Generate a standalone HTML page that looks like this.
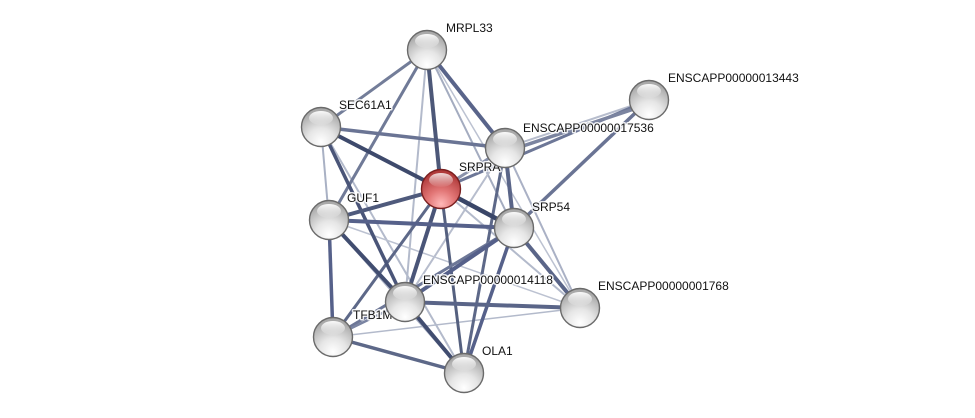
<!DOCTYPE html>
<html>
<head>
<meta charset="utf-8">
<style>
  html,body{margin:0;padding:0;background:#fff;}
  svg{display:block;}
  .lbl{font-family:"Liberation Sans",Arial,sans-serif;font-size:12px;fill:#111;stroke:#fff;stroke-width:3px;stroke-opacity:0.85;paint-order:stroke;stroke-linejoin:round;}
</style>
</head>
<body>
<svg width="975" height="418" viewBox="0 0 975 418" xmlns="http://www.w3.org/2000/svg">
  <defs>
    <radialGradient id="gBase" cx="50%" cy="88%" r="78%">
      <stop offset="0" stop-color="#ffffff"/>
      <stop offset="0.45" stop-color="#e6e6e6"/>
      <stop offset="1" stop-color="#a9a9a9"/>
    </radialGradient>
    <radialGradient id="rBase" cx="50%" cy="88%" r="78%">
      <stop offset="0" stop-color="#ffb8b8"/>
      <stop offset="0.45" stop-color="#e27676"/>
      <stop offset="1" stop-color="#b03a3a"/>
    </radialGradient>
    <linearGradient id="hl" x1="0" y1="0" x2="0" y2="1">
      <stop offset="0" stop-color="#ffffff" stop-opacity="0.95"/>
      <stop offset="1" stop-color="#ffffff" stop-opacity="0.05"/>
    </linearGradient>
  </defs>

  <g stroke-linecap="butt" fill="none">
    <!-- light edges -->
    <line x1="427" y1="50" x2="405" y2="302" stroke="#b3bacb" stroke-width="2"/>
    <line x1="427" y1="50" x2="580" y2="308" stroke="#bcc2d1" stroke-width="1.5"/>
    <line x1="427" y1="50" x2="514" y2="228" stroke="#a4acc0" stroke-width="2"/>
    <line x1="321" y1="127" x2="329" y2="220" stroke="#a9b1c4" stroke-width="2"/>
    <line x1="321" y1="127" x2="464" y2="373" stroke="#b3bacb" stroke-width="2"/>
    <line x1="505" y1="148" x2="580" y2="308" stroke="#aab1c5" stroke-width="2"/>
    <line x1="505" y1="148" x2="405" y2="302" stroke="#b7bdcd" stroke-width="2"/>
    <line x1="441" y1="189" x2="580" y2="308" stroke="#b3bacb" stroke-width="2"/>
    <line x1="329" y1="220" x2="580" y2="308" stroke="#bcc2d1" stroke-width="1.5"/>
    <line x1="329" y1="220" x2="464" y2="373" stroke="#adb4c7" stroke-width="2"/>
    <line x1="333" y1="337" x2="580" y2="308" stroke="#b3bacb" stroke-width="1.5"/>
    <line x1="505" y1="148" x2="649" y2="100" stroke="#b7bdcd" stroke-width="2"/>
    <!-- medium edges -->
    <line x1="427" y1="50" x2="321" y2="127" stroke="#737d99" stroke-width="3"/>
    <line x1="427" y1="50" x2="329" y2="220" stroke="#707a97" stroke-width="3"/>
    <line x1="321" y1="127" x2="505" y2="148" stroke="#6a7494" stroke-width="3.5"/>
    <line x1="505" y1="148" x2="441" y2="189" stroke="#8a92ab" stroke-width="3"/>
    <line x1="505" y1="148" x2="464" y2="373" stroke="#5d6888" stroke-width="3"/>
    <line x1="441" y1="189" x2="333" y2="337" stroke="#5d6888" stroke-width="3"/>
    <line x1="441" y1="189" x2="464" y2="373" stroke="#55607f" stroke-width="3"/>
    <line x1="441" y1="189" x2="649" y2="100" stroke="#6d7797" stroke-width="3"/>
    <line x1="514" y1="228" x2="333" y2="337" stroke="#6d7797" stroke-width="3"/>
    <line x1="514" y1="228" x2="464" y2="373" stroke="#56618a" stroke-width="3.5"/>
    <line x1="514" y1="228" x2="649" y2="100" stroke="#6a7494" stroke-width="3.5"/>
    <line x1="329" y1="220" x2="333" y2="337" stroke="#56618a" stroke-width="3.5"/>
    <line x1="333" y1="337" x2="464" y2="373" stroke="#5d6888" stroke-width="3.5"/>
    <!-- thick edges -->
    <line x1="427" y1="50" x2="441" y2="189" stroke="#4d5878" stroke-width="4"/>
    <line x1="427" y1="50" x2="505" y2="148" stroke="#59648a" stroke-width="4"/>
    <line x1="321" y1="127" x2="441" y2="189" stroke="#3e4a6c" stroke-width="4"/>
    <line x1="321" y1="127" x2="405" y2="302" stroke="#4a5578" stroke-width="3.5"/>
    <line x1="505" y1="148" x2="514" y2="228" stroke="#5a6588" stroke-width="4"/>
    <line x1="505" y1="148" x2="649" y2="100" stroke="#7b84a0" stroke-width="3.5" transform="translate(0,4)"/>
    <line x1="441" y1="189" x2="329" y2="220" stroke="#4f5a7c" stroke-width="4"/>
    <line x1="441" y1="189" x2="514" y2="228" stroke="#3a4668" stroke-width="4.5"/>
    <line x1="441" y1="189" x2="405" y2="302" stroke="#4a5578" stroke-width="4"/>
    <line x1="329" y1="220" x2="514" y2="228" stroke="#56618a" stroke-width="4"/>
    <line x1="329" y1="220" x2="405" y2="302" stroke="#414d70" stroke-width="4"/>
    <line x1="514" y1="228" x2="405" y2="302" stroke="#55608a" stroke-width="4"/>
    <line x1="514" y1="228" x2="580" y2="308" stroke="#5a6588" stroke-width="4"/>
    <line x1="405" y1="302" x2="580" y2="308" stroke="#5a6588" stroke-width="4"/>
    <line x1="405" y1="302" x2="464" y2="373" stroke="#414d70" stroke-width="4"/>
    <line x1="405" y1="302" x2="333" y2="337" stroke="#7a84a2" stroke-width="2.5"/>
  </g>

  <!-- labels -->
  <g class="lbl">
    <text x="446" y="32">MRPL33</text>
    <text x="339" y="109">SEC61A1</text>
    <text x="459" y="171">SRPRA</text>
    <text x="523" y="132">ENSCAPP00000017536</text>
    <text x="668" y="82">ENSCAPP00000013443</text>
    <text x="347" y="202">GUF1</text>
    <text x="532" y="211">SRP54</text>
    <text x="423" y="284">ENSCAPP00000014118</text>
    <text x="353" y="319">TFB1M</text>
    <text x="598" y="290">ENSCAPP00000001768</text>
    <text x="482" y="355">OLA1</text>
  </g>

  <!-- nodes -->
  <g>
    <g transform="translate(427,50)"><circle r="19.5" fill="url(#gBase)" stroke="#6a6a6a" stroke-width="1.4"/><ellipse cx="0" cy="-9" rx="12" ry="7" fill="url(#hl)"/></g>
    <g transform="translate(321,127)"><circle r="19.5" fill="url(#gBase)" stroke="#6a6a6a" stroke-width="1.4"/><ellipse cx="0" cy="-9" rx="12" ry="7" fill="url(#hl)"/></g>
    <g transform="translate(505,148)"><circle r="19.5" fill="url(#gBase)" stroke="#6a6a6a" stroke-width="1.4"/><ellipse cx="0" cy="-9" rx="12" ry="7" fill="url(#hl)"/></g>
    <g transform="translate(649,100)"><circle r="19.5" fill="url(#gBase)" stroke="#6a6a6a" stroke-width="1.4"/><ellipse cx="0" cy="-9" rx="12" ry="7" fill="url(#hl)"/></g>
    <g transform="translate(329,220)"><circle r="19.5" fill="url(#gBase)" stroke="#6a6a6a" stroke-width="1.4"/><ellipse cx="0" cy="-9" rx="12" ry="7" fill="url(#hl)"/></g>
    <g transform="translate(514,228)"><circle r="19.5" fill="url(#gBase)" stroke="#6a6a6a" stroke-width="1.4"/><ellipse cx="0" cy="-9" rx="12" ry="7" fill="url(#hl)"/></g>
    <g transform="translate(405,302)"><circle r="19.5" fill="url(#gBase)" stroke="#6a6a6a" stroke-width="1.4"/><ellipse cx="0" cy="-9" rx="12" ry="7" fill="url(#hl)"/></g>
    <g transform="translate(333,337)"><circle r="19.5" fill="url(#gBase)" stroke="#6a6a6a" stroke-width="1.4"/><ellipse cx="0" cy="-9" rx="12" ry="7" fill="url(#hl)"/></g>
    <g transform="translate(580,308)"><circle r="19.5" fill="url(#gBase)" stroke="#6a6a6a" stroke-width="1.4"/><ellipse cx="0" cy="-9" rx="12" ry="7" fill="url(#hl)"/></g>
    <g transform="translate(464,373)"><circle r="19.5" fill="url(#gBase)" stroke="#6a6a6a" stroke-width="1.4"/><ellipse cx="0" cy="-9" rx="12" ry="7" fill="url(#hl)"/></g>
    <g transform="translate(441,189)"><circle r="19.5" fill="url(#rBase)" stroke="#7a1f1f" stroke-width="1.4"/><ellipse cx="0" cy="-9" rx="12" ry="7" fill="url(#hl)" opacity="0.85"/></g>
  </g>
</svg>
</body>
</html>
